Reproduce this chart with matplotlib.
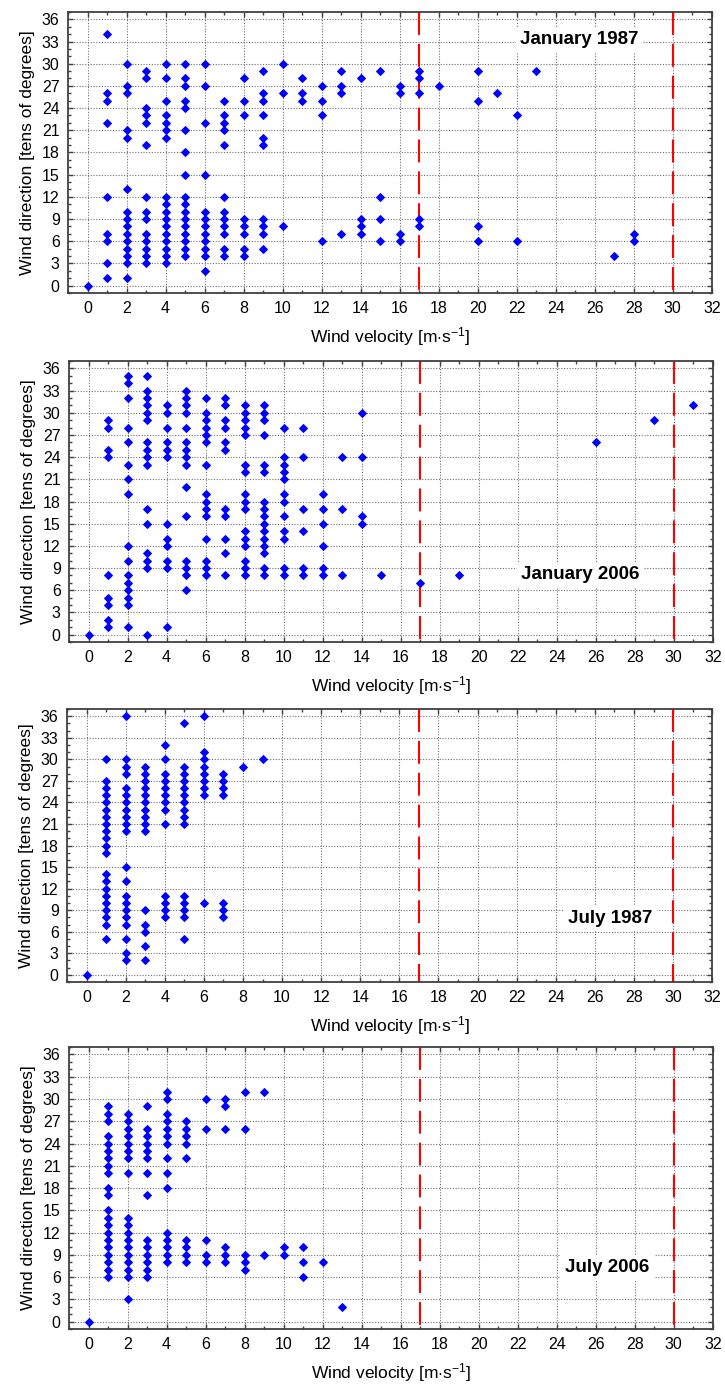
import matplotlib
matplotlib.use('Agg')
import matplotlib.pyplot as plt
from matplotlib.ticker import MultipleLocator

plt.rcParams['font.family'] = ['Liberation Sans', 'DejaVu Sans']
plt.rcParams['mathtext.fontset'] = 'custom'
plt.rcParams['mathtext.rm'] = 'Liberation Sans'
plt.rcParams['mathtext.it'] = 'Liberation Sans:italic'
plt.rcParams['mathtext.bf'] = 'Liberation Sans:bold'

# wind velocity [m/s] -> observed directions [tens of degrees]
jan1987 = {
    0: [0],
    1: [34, 26, 25, 22, 12, 7, 6, 3, 1],
    2: [30, 27, 26, 21, 20, 13, 10, 9, 8, 7, 6, 5, 4, 3, 1],
    3: [29, 28, 24, 23, 22, 19, 12, 10, 9, 7, 6, 5, 4, 3],
    4: [30, 28, 25, 23, 22, 21, 20, 12, 11, 10, 9, 8, 7, 6, 5, 4, 3],
    5: [30, 28, 27, 25, 24, 21, 18, 15, 12, 11, 10, 9, 8, 7, 6, 5, 4],
    6: [30, 27, 22, 15, 10, 9, 8, 7, 6, 5, 4, 2],
    7: [25, 23, 22, 21, 19, 12, 10, 9, 8, 7, 5, 4],
    8: [28, 25, 23, 9, 8, 7, 5, 4],
    9: [29, 26, 25, 23, 20, 19, 9, 8, 7, 5],
    10: [30, 26, 8],
    11: [28, 26, 25],
    12: [27, 25, 23, 6],
    13: [29, 27, 26, 7],
    14: [28, 9, 8, 7],
    15: [29, 12, 9, 6],
    16: [27, 26, 7, 6],
    17: [29, 28, 26, 9, 8],
    18: [27],
    20: [29, 25, 8, 6],
    21: [26],
    22: [23, 6],
    23: [29],
    27: [4],
    28: [7, 6],
}

jan2006 = {
    0: [0],
    1: [29, 28, 25, 24, 8, 5, 4, 2, 1],
    2: [35, 34, 32, 28, 26, 23, 21, 19, 12, 10, 8, 7, 6, 5, 4, 1],
    3: [35, 33, 32, 31, 30, 29, 26, 25, 24, 23, 17, 15, 11, 10, 9, 0],
    4: [31, 30, 28, 26, 25, 24, 15, 13, 12, 10, 9, 1],
    5: [33, 32, 31, 30, 28, 26, 25, 24, 23, 20, 16, 10, 9, 8, 6],
    6: [32, 30, 29, 28, 27, 26, 23, 19, 18, 17, 16, 13, 10, 9, 8],
    7: [32, 31, 29, 28, 26, 25, 17, 16, 13, 11, 8],
    8: [31, 30, 29, 28, 27, 23, 22, 19, 18, 17, 14, 13, 12, 10, 9, 8],
    9: [31, 30, 29, 27, 23, 22, 18, 17, 16, 15, 14, 13, 12, 11, 9, 8],
    10: [28, 24, 23, 22, 21, 19, 18, 16, 14, 13, 9, 8],
    11: [28, 24, 17, 14, 9, 8],
    12: [19, 17, 15, 12, 9, 8],
    13: [24, 17, 8],
    14: [30, 24, 16, 15],
    15: [8],
    17: [7],
    19: [8],
    26: [26],
    29: [29],
    31: [31],
}

jul1987 = {
    0: [0],
    1: [30, 27, 26, 25, 24, 23, 22, 21, 20, 19, 18, 17, 14, 13, 12, 11, 10, 9, 8, 7, 5],
    2: [36, 30, 29, 28, 26, 25, 24, 23, 22, 21, 20, 15, 13, 11, 10, 9, 8, 7, 5, 3, 2],
    3: [29, 28, 27, 26, 25, 24, 23, 22, 21, 20, 9, 7, 6, 4, 2],
    4: [32, 30, 28, 27, 26, 25, 24, 23, 21, 11, 10, 9, 8],
    5: [35, 29, 28, 27, 26, 25, 24, 23, 22, 21, 11, 10, 9, 8, 5],
    6: [36, 31, 30, 29, 28, 27, 26, 25, 10],
    7: [28, 27, 26, 25, 10, 9, 8],
    8: [29],
    9: [30],
}

jul2006 = {
    0: [0],
    1: [29, 28, 27, 25, 24, 23, 22, 21, 20, 18, 17, 15, 14, 13, 12, 11, 10, 9, 8, 7, 6],
    2: [28, 27, 26, 25, 24, 23, 22, 20, 14, 13, 12, 11, 10, 9, 8, 7, 6, 3],
    3: [29, 26, 25, 24, 23, 22, 20, 17, 11, 10, 9, 8, 7, 6],
    4: [31, 30, 28, 27, 26, 25, 24, 22, 20, 18, 12, 11, 10, 9, 8],
    5: [27, 26, 25, 24, 22, 11, 10, 9, 8],
    6: [30, 26, 11, 9, 8],
    7: [30, 29, 26, 10, 9, 8],
    8: [31, 26, 9, 8, 7],
    9: [31, 9],
    10: [10, 9],
    11: [10, 8, 6],
    12: [8],
    13: [2],
}

panels = [jan1987, jan2006, jul1987, jul2006]
titles = ['January 1987', 'January 2006', 'July 1987', 'July 2006']
title_pos = [(25.2, 33.3), (25.2, 8.1), (26.8, 7.9), (26.6, 7.3)]
thresholds = [17, 30]

# axes boxes in figure fractions (left, bottom, width, height)
boxes = [
    (0.0938, 0.7888, 0.888, 0.2026),
    (0.0952, 0.5371, 0.888, 0.2026),
    (0.0924, 0.2920, 0.890, 0.1968),
    (0.0952, 0.0418, 0.888, 0.2033),
]

fig = plt.figure(figsize=(7.25, 13.87), dpi=100)

for data, title, pos, box in zip(panels, titles, title_pos, boxes):
    ax = fig.add_axes(box)
    xs = []
    ys = []
    for v, dirs in data.items():
        xs += [v] * len(dirs)
        ys += dirs
    ax.plot(xs, ys, linestyle='', marker='D', ms=3.8, color='#0000ff',
            mec='#0000ff', mew=0.7, zorder=3)
    for t in thresholds:
        ax.axvline(t, ymin=1, ymax=0, color='#ff0000', lw=1.5,
                   dashes=(11, 4.3), zorder=2)
    ax.text(pos[0], pos[1], title, fontsize=13.5, fontweight='bold',
            ha='center', va='center', zorder=4,
            bbox=dict(facecolor='white', edgecolor='none', pad=3))

    ax.set_xlim(-1, 32)
    ax.set_ylim(-1, 37)
    ax.xaxis.set_major_locator(MultipleLocator(2))
    ax.xaxis.set_minor_locator(MultipleLocator(1))
    ax.yaxis.set_major_locator(MultipleLocator(3))
    ax.yaxis.set_minor_locator(MultipleLocator(1))
    ax.grid(True, which='major', color='#707070', lw=0.8,
            linestyle=(0, (1, 1.5)))
    ax.set_axisbelow(True)
    ax.tick_params(which='both', direction='in', top=True, right=True,
                   color='#404040', labelsize=11.5, pad=6)
    ax.tick_params(which='major', length=3.5, width=1)
    ax.tick_params(which='minor', length=2.5, width=1)
    for s in ax.spines.values():
        s.set_color('#404040')
        s.set_linewidth(1.3)
    ax.set_xlabel('Wind velocity [m$\\cdot$s$^{-1}$]', fontsize=12.5, labelpad=6)
    ax.set_ylabel('Wind direction [tens of degrees]', fontsize=12.5, labelpad=5)

fig.savefig('out.png', dpi=100)
